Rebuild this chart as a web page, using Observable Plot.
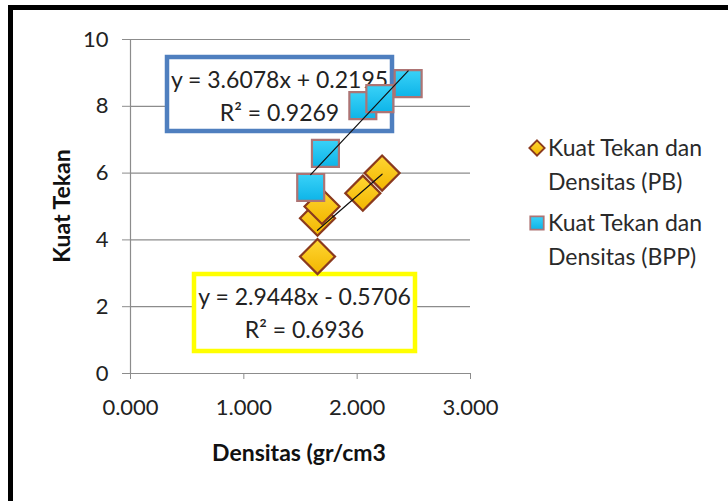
<!DOCTYPE html>
<html>
<head>
<meta charset="utf-8">
<script src="https://cdn.jsdelivr.net/npm/d3@7"></script>
<script src="https://cdn.jsdelivr.net/npm/@observablehq/plot@0.6"></script>
<style>
  html, body { margin: 0; padding: 0; background: #fff; }
  #chart { width: 728px; height: 501px; overflow: hidden; }
  svg { display: block; }
</style>
</head>
<body>
<div id="chart"></div>
<script>
// Densitas (gr/cm3) vs Kuat Tekan for the two sample groups
const pbDensitas   = [1.65, 1.65, 1.69, 2.05, 2.22];
const pbKuatTekan  = [3.50, 4.65, 5.00, 5.40, 6.00];
const bppDensitas  = [1.59, 1.72, 2.05, 2.20, 2.45];
const bppKuatTekan = [5.57, 6.59, 8.02, 8.23, 8.68];

// Linear trendlines as printed in the chart
const pbTrend  = { slope: 2.9448, intercept: -0.5706, r2: 0.6936 };
const bppTrend = { slope: 3.6078, intercept: 0.2195, r2: 0.9269 };

const seriesNames = ["Kuat Tekan dan Densitas (PB)", "Kuat Tekan dan Densitas (BPP)"];
const xTicks = [0, 1, 2, 3];
const yTicks = [0, 2, 4, 6, 8, 10];
const xTitle = "Densitas (gr/cm3";
const yTitle = "Kuat Tekan";
const captionText = "Hubungan densitas dengan kuat tekan pada batu pasir PB dan BPP";

const pb  = pbDensitas.map((x, i) => ({ x, y: pbKuatTekan[i] }));
const bpp = bppDensitas.map((x, i) => ({ x, y: bppKuatTekan[i] }));

function trendLine(xs, t) {
  const lo = d3.min(xs), hi = d3.max(xs);
  return [lo, hi].map(x => ({ x, y: t.slope * x + t.intercept }));
}
function equation(t) {
  const sign = t.intercept < 0 ? " - " : " + ";
  return `y = ${t.slope.toFixed(4)}x${sign}${Math.abs(t.intercept).toFixed(4)}`;
}

const FONT = "Lato, 'Open Sans', sans-serif";
const GRID = "#8c8c8c";
const PB_STROKE = "#8a3a1e";
const BPP_STROKE = "#ad7474";

const chart = Plot.plot({
  width: 728,
  height: 501,
  marginLeft: 130,
  marginRight: 258,
  marginTop: 39,
  marginBottom: 128,
  style: { fontFamily: FONT, fontSize: "22px", color: "#222", background: "#fff", overflow: "visible" },
  x: { domain: [0, 3] },
  y: { domain: [0, 10] },
  marks: [
    Plot.ruleY(yTicks, { stroke: GRID, strokeWidth: 1.2 }),
    Plot.ruleX([0], { stroke: GRID, strokeWidth: 1.2 }),
    Plot.axisX({ ticks: xTicks, tickFormat: d3.format(".3f"), tickSize: 6, tickPadding: 20,
                 stroke: GRID, label: null, fontSize: 22 }),
    Plot.axisY({ ticks: yTicks, tickFormat: d3.format("d"), tickSize: 8, tickPadding: 14,
                 stroke: GRID, label: null, fontSize: 22 }),
    Plot.dot(pb, { x: "x", y: "y", symbol: "diamond2", r: 15.8, fill: "url(#pbFill)", stroke: PB_STROKE, strokeWidth: 2.2 }),
    Plot.dot(bpp, { x: "x", y: "y", symbol: "square", r: 15.2, fill: "url(#bppFill)", stroke: BPP_STROKE, strokeWidth: 2.2 }),
    Plot.line(trendLine(pbDensitas, pbTrend), { x: "x", y: "y", stroke: "#111", strokeWidth: 1.2 }),
    Plot.line(trendLine(bppDensitas, bppTrend), { x: "x", y: "y", stroke: "#111", strokeWidth: 1.2 })
  ]
});

const svg = d3.select(chart);

// marker shading
const defs = svg.insert("defs", ":first-child");
const pbGrad = defs.append("linearGradient").attr("id", "pbFill").attr("x1", 0).attr("y1", 0).attr("x2", 0).attr("y2", 1);
pbGrad.append("stop").attr("offset", "0%").attr("stop-color", "#ffd633");
pbGrad.append("stop").attr("offset", "100%").attr("stop-color", "#f2b600");
const bppGrad = defs.append("linearGradient").attr("id", "bppFill").attr("x1", 0).attr("y1", 0).attr("x2", 0).attr("y2", 1);
bppGrad.append("stop").attr("offset", "0%").attr("stop-color", "#3ad2f8");
bppGrad.append("stop").attr("offset", "100%").attr("stop-color", "#0db4e8");

// axis titles
svg.append("text")
  .attr("x", 299).attr("y", 453).attr("dy", "0.35em")
  .attr("text-anchor", "middle").attr("font-family", FONT)
  .attr("font-weight", "bold").attr("font-size", 23).attr("fill", "#111")
  .text(xTitle);
svg.append("text")
  .attr("transform", "translate(62,206) rotate(-90)").attr("dy", "0.35em")
  .attr("text-anchor", "middle").attr("font-family", FONT)
  .attr("font-weight", "bold").attr("font-size", 23).attr("fill", "#111")
  .text(yTitle);

// outer frame of the figure and the clipped caption line above it
svg.append("text")
  .attr("x", -14).attr("y", -5)
  .attr("text-anchor", "start")
  .attr("font-family", "'Liberation Serif', serif")
  .attr("font-weight", "bold").attr("font-size", 20)
  .attr("fill", "#000")
  .text(captionText);
svg.append("path")
  .attr("d", "M10.5,501 L10.5,7.5 L728,7.5")
  .attr("fill", "none").attr("stroke", "#000").attr("stroke-width", 5);

// trendline labels, placed beneath the markers
const labels = svg.insert("g", "g[aria-label=dot]");
function eqBox(t, box, color) {
  labels.append("rect")
    .attr("x", box.x).attr("y", box.y).attr("width", box.w).attr("height", box.h)
    .attr("fill", "#fff").attr("stroke", color).attr("stroke-width", 4.5);
  const cx = box.x + box.w / 2;
  const g = labels.append("g").attr("font-family", FONT).attr("font-size", 23)
    .attr("fill", "#222").attr("text-anchor", "middle");
  g.append("text").attr("x", cx).attr("y", box.y + 23).attr("dy", "0.35em").text(equation(t));
  g.append("text").attr("x", cx).attr("y", box.y + 56).attr("dy", "0.35em").text(`R² = ${t.r2.toFixed(4)}`);
}
eqBox(bppTrend, { x: 167, y: 57, w: 225, h: 74 }, "#4f7fbf");
eqBox(pbTrend,  { x: 194, y: 274, w: 221, h: 77 }, "#ffff00");

// legend
const legend = svg.append("g").attr("font-family", FONT).attr("font-size", 23)
  .attr("fill", "#2a2a2a").attr("text-anchor", "start");
const items = [
  { name: seriesNames[0], y: 148, sym: d3.symbolDiamond2, size: 150, fill: "url(#pbFill)", stroke: PB_STROKE },
  { name: seriesNames[1], y: 223, sym: d3.symbolSquare, size: 180, fill: "url(#bppFill)", stroke: BPP_STROKE }
];
items.forEach(it => {
  legend.append("path")
    .attr("transform", `translate(537,${it.y})`)
    .attr("d", d3.symbol(it.sym, it.size)())
    .attr("fill", it.fill).attr("stroke", it.stroke).attr("stroke-width", 1.8);
  const words = it.name.split(" ");
  const line1 = words.slice(0, 3).join(" ");
  const line2 = words.slice(3).join(" ");
  legend.append("text").attr("x", 548).attr("y", it.y).attr("dy", "0.35em").text(line1);
  legend.append("text").attr("x", 548).attr("y", it.y + 34).attr("dy", "0.35em").text(line2);
});

document.getElementById("chart").appendChild(chart);
</script>
</body>
</html>
